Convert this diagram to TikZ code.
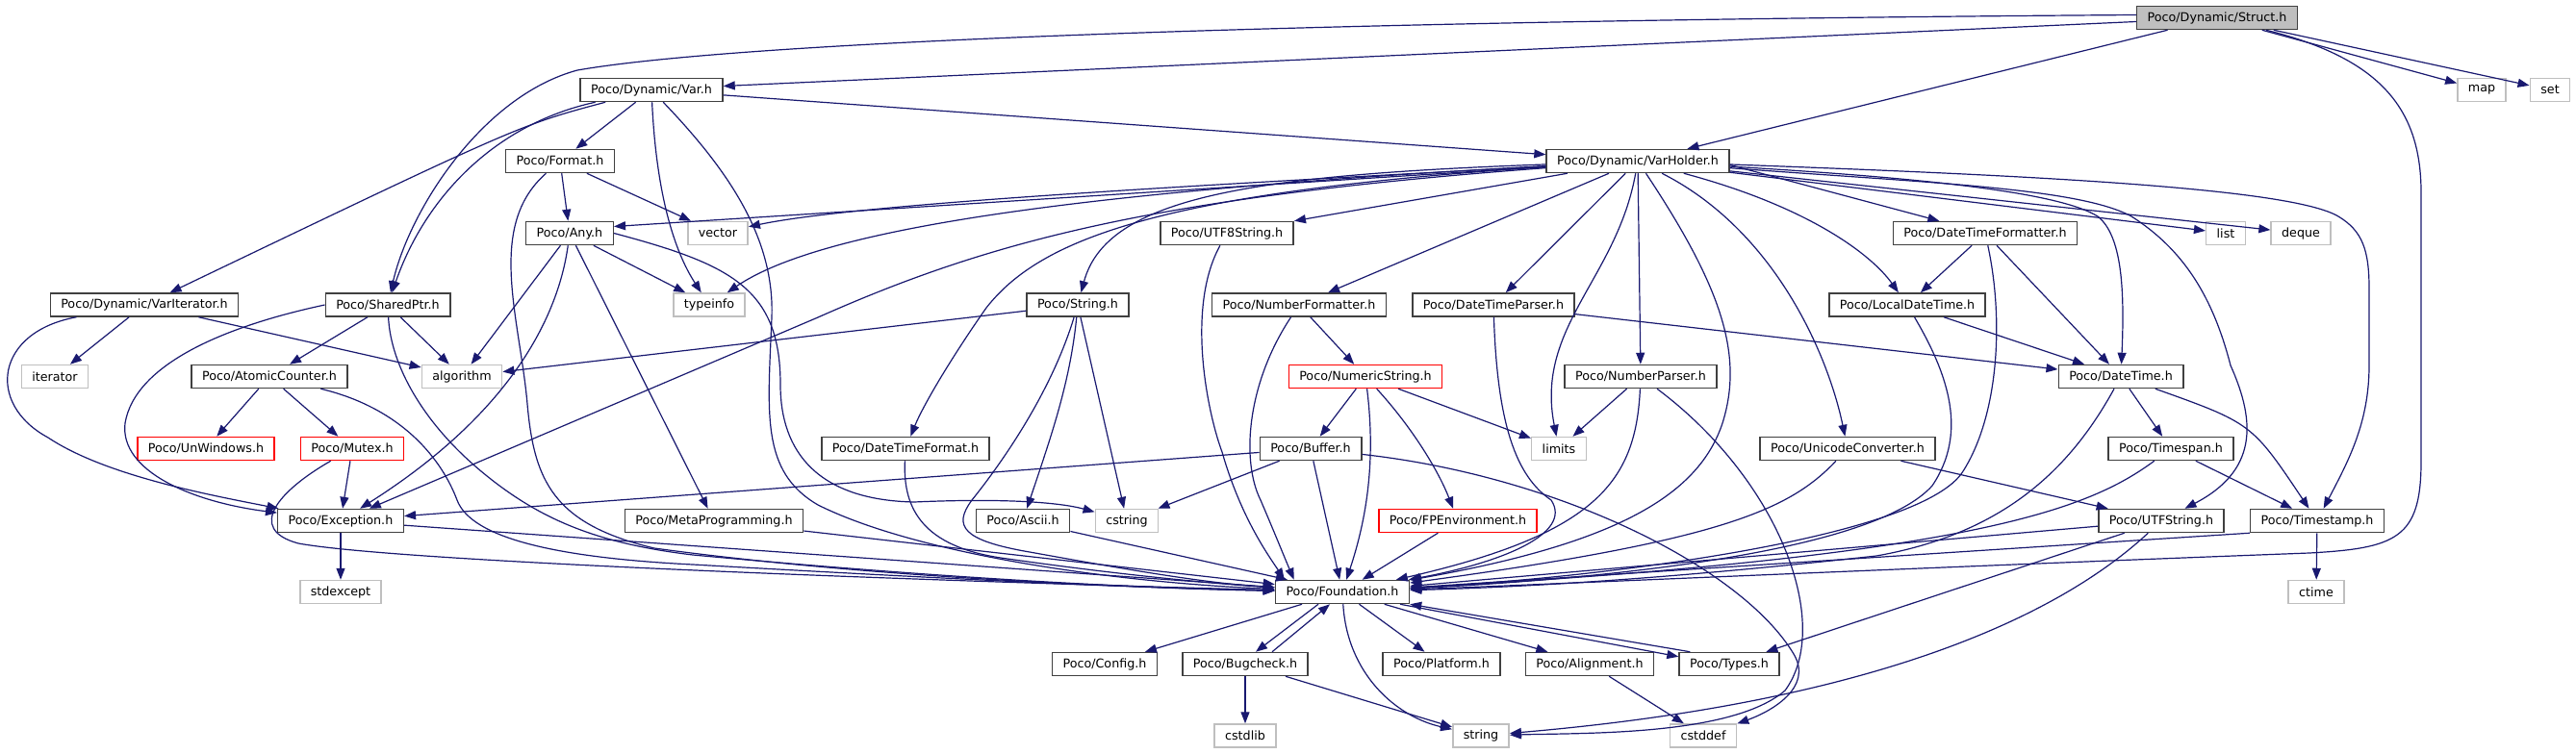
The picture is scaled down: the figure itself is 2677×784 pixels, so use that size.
\documentclass[tikz,border=0pt]{standalone}
\usepackage{fontspec}
\newfontfamily\ddfont{DejaVu Sans}
\usetikzlibrary{arrows.meta}
\definecolor{edgec}{HTML}{191970}
\definecolor{bordc}{HTML}{404040}
\definecolor{greyb}{HTML}{BFBFBF}
\definecolor{redb}{HTML}{FF0000}
\tikzset{
 nb/.style={draw=bordc, fill=white, line width=1.5pt, inner xsep=11pt, inner ysep=0pt, minimum height=24pt, font=\ddfont\fontsize{12.7}{15}\selectfont, text=black},
 gb/.style={nb, draw=greyb},
 rb/.style={nb, draw=redb},
 sb/.style={nb, fill=greyb},
 e/.style={draw=edgec, line width=1.2pt, -{Triangle[length=12pt,width=9pt]}}
}
\begin{document}
\begin{tikzpicture}[x=1pt,y=-1pt]
\fill[white] (0,0) rectangle (2677,784);
\useasboundingbox (0,0) rectangle (2677,784);
% nodes
\node[sb] (Struct) at (2304,18.5) {Poco/Dynamic/Struct.h};
\node[nb] (Var) at (677,93.5) {Poco/Dynamic/Var.h};
\node[gb] (mapn) at (2579,93.5) {map};
\node[gb] (setn) at (2650,93.5) {set};
\node[nb] (Format) at (582,167.5) {Poco/Format.h};
\node[nb] (VarHolder) at (1702,167.5) {Poco/Dynamic/VarHolder.h};
\node[nb] (Any) at (592,242.5) {Poco/Any.h};
\node[gb] (vector) at (746,242.5) {vector};
\node[nb] (UTFeight) at (1275,242.5) {Poco/UTF8String.h};
\node[nb] (DTFormatter) at (2063,242.5) {Poco/DateTimeFormatter.h};
\node[gb] (listn) at (2313,242.5) {list};
\node[gb] (deque) at (2391,242.5) {deque};
\node[nb] (VarIter) at (150,317) {Poco/Dynamic/VarIterator.h};
\node[nb] (SharedPtr) at (403,317) {Poco/SharedPtr.h};
\node[gb] (typeinfo) at (737,317) {typeinfo};
\node[nb] (Stringh) at (1120,317) {Poco/String.h};
\node[nb] (NumFormatter) at (1350,317) {Poco/NumberFormatter.h};
\node[nb] (DTParser) at (1552,317) {Poco/DateTimeParser.h};
\node[nb] (LocalDT) at (1982,317) {Poco/LocalDateTime.h};
\node[gb] (iterator) at (57,391.5) {iterator};
\node[nb] (AtomicCounter) at (280,391.5) {Poco/AtomicCounter.h};
\node[gb] (algorithm) at (480,391.5) {algorithm};
\node[rb] (NumericString) at (1419,391.5) {Poco/NumericString.h};
\node[nb] (NumParser) at (1705,391.5) {Poco/NumberParser.h};
\node[nb] (DateTime) at (2204,391.5) {Poco/DateTime.h};
\node[rb] (UnWindows) at (214,466.5) {Poco/UnWindows.h};
\node[rb] (Mutex) at (366,466.5) {Poco/Mutex.h};
\node[nb] (DTFormat) at (941,466.5) {Poco/DateTimeFormat.h};
\node[nb] (Buffer) at (1362,466.5) {Poco/Buffer.h};
\node[gb] (limits) at (1620,466.5) {limits};
\node[nb] (UnicodeConv) at (1920,466.5) {Poco/UnicodeConverter.h};
\node[nb] (Timespan) at (2256,466.5) {Poco/Timespan.h};
\node[nb] (Exception) at (354,541.5) {Poco/Exception.h};
\node[nb] (MetaProg) at (742,541.5) {Poco/MetaProgramming.h};
\node[nb] (Ascii) at (1063,541.5) {Poco/Ascii.h};
\node[gb] (cstring) at (1171,541.5) {cstring};
\node[rb] (FPEnv) at (1515,541.5) {Poco/FPEnvironment.h};
\node[nb] (UTFString) at (2246,541.5) {Poco/UTFString.h};
\node[nb] (Timestamp) at (2408,541.5) {Poco/Timestamp.h};
\node[gb] (stdexcept) at (354,615.5) {stdexcept};
\node[nb] (Foundation) at (1395,615.5) {Poco/Foundation.h};
\node[gb] (ctime) at (2407,615.5) {ctime};
\node[nb] (Config) at (1148,690.5) {Poco/Config.h};
\node[nb] (Bugcheck) at (1294,690.5) {Poco/Bugcheck.h};
\node[nb] (Platform) at (1498,690.5) {Poco/Platform.h};
\node[nb] (Alignment) at (1652,690.5) {Poco/Alignment.h};
\node[nb] (Types) at (1797,690.5) {Poco/Types.h};
\node[gb] (cstdlib) at (1294,765) {cstdlib};
\node[gb] (stringn) at (1539,765) {string};
\node[gb] (cstddef) at (1770,765) {cstddef};
% Struct
\draw[e] ([yshift=-4pt]Struct.west) -- ([yshift=4pt]Var.east);
\draw[e] ([yshift=3pt]Struct.west) .. controls (1300,22) and (760,45) .. (600,73) .. controls (500,100) and (425,220) .. (SharedPtr);
\draw[e] (Struct) -- (VarHolder);
\draw[e] (Struct) -- (mapn);
\draw[e] (Struct) -- (setn);
\draw[e] (Struct) .. controls (2470,60) and (2516,110) .. (2516,200) -- (2516,480) .. controls (2516,560) and (2490,570) .. (2400,575) .. controls (2000,590) and (1600,608) .. (Foundation);
% Var
\draw[e] (Var) -- (Format);
\draw[e] (Var) .. controls (540,130) .. (VarIter);
\draw[e] (Var) .. controls (510,130) and (440,210) .. (SharedPtr);
\draw[e] (Var) .. controls (682,200) and (700,260) .. (typeinfo);
\draw[e] (Var) -- (VarHolder);
\draw[e] (Var) .. controls (760,180) and (805,250) .. (802,330) .. controls (798,430) and (790,490) .. (850,525) .. controls (950,575) and (1150,605) .. (Foundation);
% Format
\draw[e] (Format) -- (Any);
\draw[e] (Format) -- (vector);
\draw[e] (Format) .. controls (505,235) and (540,330) .. (548,420) .. controls (555,500) and (575,545) .. (680,570) .. controls (900,600) and (1150,610) .. (Foundation);
% Any
\draw[e] (Any) -- (algorithm);
\draw[e] (Any) -- (typeinfo);
\draw[e] (Any) .. controls (580,330) and (530,430) .. (Exception);
\draw[e] (Any) -- (MetaProg);
\draw[e] (Any.east) .. controls (760,275) and (811,300) .. (811,400) .. controls (811,470) and (850,520) .. (950,522) .. controls (1040,518) and (1100,522) .. (cstring);
% VarIterator
\draw[e] (VarIter) -- (iterator);
\draw[e] (VarIter) -- (algorithm);
\draw[e] (VarIter) .. controls (-5,345) and (-15,420) .. (50,455) .. controls (110,495) and (220,515) .. (Exception);
% SharedPtr
\draw[e] (SharedPtr) -- (AtomicCounter);
\draw[e] (SharedPtr) -- (algorithm);
\draw[e] (SharedPtr.west) .. controls (230,340) and (140,380) .. (130,440) .. controls (124,490) and (200,522) .. (Exception);
\draw[e] (SharedPtr) .. controls (406,380) and (440,440) .. (500,490) .. controls (560,540) and (620,565) .. (720,577) .. controls (1000,603) and (1200,612) .. (Foundation);
% AtomicCounter
\draw[e] (AtomicCounter) -- (UnWindows);
\draw[e] (AtomicCounter) -- (Mutex);
\draw[e] (AtomicCounter) .. controls (420,425) and (460,480) .. (475,520) .. controls (490,560) and (580,580) .. (720,587) .. controls (1000,603) and (1200,612) .. (Foundation);
% Mutex
\draw[e] (Mutex) -- (Exception);
\draw[e] (Mutex) .. controls (290,510) and (255,550) .. (310,565) .. controls (420,585) and (1000,605) .. (Foundation);
% Exception etc.
\draw[e] (Exception) -- (stdexcept);
\draw[e] (Exception) -- (Foundation);
\draw[e] (MetaProg) -- (Foundation);
\draw[e] (DTFormat) .. controls (938,530) and (960,568) .. (1040,580) .. controls (1150,596) and (1250,606) .. (Foundation);
% String
\draw[e] (Stringh) -- (algorithm);
\draw[e] (Stringh) -- (cstring);
\draw[e] (Stringh) .. controls (1112,400) and (1090,460) .. (Ascii);
\draw[e] (Stringh) .. controls (1095,400) and (1050,470) .. (1010,520) .. controls (990,547) and (1000,562) .. (1070,574) .. controls (1170,592) and (1250,606) .. (Foundation);
% VarHolder
\draw[e] (VarHolder) -- ([yshift=7pt]Any.east);
\draw[e] (VarHolder) .. controls (1300,190) and (900,210) .. (vector);
\draw[e] (VarHolder) .. controls (1100,200) and (850,240) .. (typeinfo);
\draw[e] (VarHolder) .. controls (1200,205) and (1030,250) .. (850,330) -- (Exception);
\draw[e] (VarHolder) -- (UTFeight.north east);
\draw[e] (VarHolder) .. controls (1300,182) and (1150,205) .. (Stringh);
\draw[e] (VarHolder) .. controls (1200,200) and (1080,250) .. (1025,320) .. controls (990,370) and (960,420) .. (DTFormat);
\draw[e] (VarHolder) -- (NumFormatter);
\draw[e] (VarHolder) -- (DTParser);
\draw[e] (VarHolder) .. controls (1680,290) and (1595,340) .. (limits);
\draw[e] (VarHolder) -- (NumParser);
\draw[e] (VarHolder) .. controls (1790,300) and (1812,370) .. (1790,440) .. controls (1765,515) and (1680,565) .. (Foundation);
\draw[e] (VarHolder) .. controls (1845,240) and (1900,370) .. (UnicodeConv);
\draw[e] (VarHolder) .. controls (1880,215) and (1945,265) .. (LocalDT);
\draw[e] ([yshift=-4pt]VarHolder.east) -- (DTFormatter);
\draw[e] (VarHolder) -- (listn);
\draw[e] (VarHolder) -- (deque);
\draw[e] (VarHolder) .. controls (2000,185) and (2140,200) .. (2180,225) .. controls (2205,245) and (2208,300) .. (DateTime);
\draw[e] (VarHolder) .. controls (2000,190) and (2160,195) .. (2215,225) .. controls (2270,260) and (2300,310) .. (2318,380) .. controls (2345,440) and (2345,490) .. (UTFString);
\draw[e] (VarHolder) .. controls (2100,182) and (2380,195) .. (2430,225) .. controls (2455,240) and (2462,260) .. (2462,300) -- (2462,380) .. controls (2462,440) and (2440,480) .. (Timestamp);
% DateTimeFormatter
\draw[e] (DTFormatter) -- (LocalDT);
\draw[e] (DTFormatter) -- (DateTime);
\draw[e] (DTFormatter) .. controls (2082,330) and (2078,430) .. (2040,490) .. controls (2000,555) and (1700,598) .. (Foundation);
% LocalDateTime
\draw[e] (LocalDT) -- (DateTime);
\draw[e] (LocalDT) .. controls (2025,390) and (2045,450) .. (2008,505) .. controls (1950,570) and (1700,600) .. (Foundation);
% DateTimeParser
\draw[e] (DTParser) -- (DateTime);
\draw[e] (DTParser) .. controls (1556,440) and (1575,495) .. (1612,520) .. controls (1635,555) and (1560,585) .. (Foundation);
% NumberFormatter
\draw[e] (NumFormatter) -- (NumericString);
\draw[e] (NumFormatter) .. controls (1295,400) and (1290,480) .. (1310,520) .. controls (1325,555) and (1335,580) .. ([xshift=20pt]Foundation.north west);
% UTF8String
\draw[e] (UTFeight) .. controls (1232,320) and (1255,430) .. (1270,470) .. controls (1290,540) and (1320,580) .. ([xshift=10pt]Foundation.north west);
% NumericString
\draw[e] (NumericString) -- (Buffer);
\draw[e] (NumericString) -- (limits);
\draw[e] (NumericString) .. controls (1468,445) and (1495,490) .. (FPEnv);
\draw[e] (NumericString) .. controls (1430,480) and (1420,540) .. (Foundation);
% NumberParser
\draw[e] (NumParser) -- (limits);
\draw[e] (NumParser) .. controls (1700,500) and (1660,555) .. (Foundation);
\draw[e] (NumParser) .. controls (1850,500) and (1905,650) .. (1855,718) .. controls (1800,765) and (1650,762) .. (stringn);
% DateTime
\draw[e] (DateTime) -- (Timespan);
\draw[e] (DateTime) .. controls (2340,440) .. (Timestamp);
\draw[e] (DateTime) .. controls (2150,490) and (2080,555) .. (1950,578) .. controls (1750,600) and (1600,610) .. (Foundation);
% Buffer
\draw[e] (Buffer) -- (Exception);
\draw[e] (Buffer) -- (cstring);
\draw[e] (Buffer) -- (Foundation);
\draw[e] (Buffer) .. controls (1620,495) and (1810,590) .. (1864,680) .. controls (1885,715) and (1840,740) .. (cstddef);
% UnicodeConverter
\draw[e] (UnicodeConv) .. controls (1860,530) and (1790,562) .. (Foundation);
\draw[e] (UnicodeConv) -- (UTFString);
% Timespan
\draw[e] (Timespan) -- (Timestamp);
\draw[e] (Timespan) .. controls (2170,530) and (2050,578) .. (Foundation);
% UTFString
\draw[e] (UTFString) -- (Foundation);
\draw[e] (UTFString) -- (Types);
\draw[e] (UTFString) .. controls (2140,640) and (1950,730) .. (stringn);
% Timestamp
\draw[e] (Timestamp) -- (ctime);
\draw[e] (Timestamp.south west) -- (Foundation);
% small ones
\draw[e] (FPEnv) -- (Foundation);
\draw[e] (Ascii) -- (Foundation);
% Foundation
\draw[e] (Foundation) -- (Config);
\draw[e] ([xshift=-25pt]Foundation.south) -- ([xshift=11pt]Bugcheck.north);
\draw[e] ([xshift=28pt]Bugcheck.north) -- ([xshift=-13pt]Foundation.south);
\draw[e] (Foundation) -- (Platform);
\draw[e] (Foundation) -- (Alignment);
\draw[e] ([xshift=60pt]Foundation.south) -- ([yshift=-5pt]Types.north west);
\draw[e] ([xshift=12pt]Types.north west) -- (Foundation.south east);
\draw[e] (Foundation) .. controls (1400,700) and (1450,745) .. (stringn);
% Bugcheck, Alignment
\draw[e] (Bugcheck) -- (cstdlib);
\draw[e] (Bugcheck) -- (stringn);
\draw[e] (Alignment) -- (cstddef);
\end{tikzpicture}
\end{document}
